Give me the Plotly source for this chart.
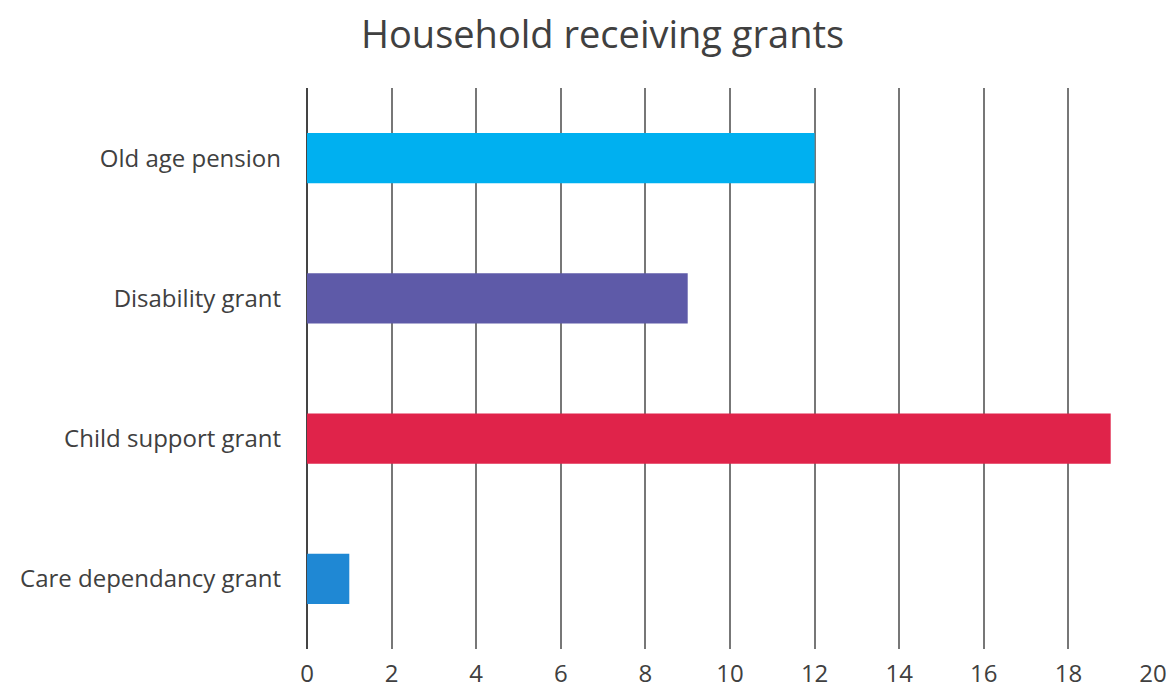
import plotly.graph_objects as go

categories = ["Old age pension", "Disability grant", "Child support grant", "Care dependancy grant"]
households = [12, 9, 19, 1]
bar_colors = ["#00B0F0", "#5E5AA8", "#E0234A", "#1F88D4"]
x_ticks = [0, 2, 4, 6, 8, 10, 12, 14, 16, 18, 20]

fig = go.Figure(
    go.Bar(
        y=categories,
        x=households,
        orientation="h",
        marker=dict(color=bar_colors, line=dict(width=0)),
        width=0.36,
        showlegend=False,
    )
)

fig.update_layout(
    width=1170,
    height=696,
    paper_bgcolor="white",
    plot_bgcolor="white",
    margin=dict(l=307, r=17, t=88, b=47, autoexpand=False),
    font=dict(family="Open Sans, Noto Sans, sans-serif", color="#404040"),
    title=dict(
        text="Household receiving grants",
        x=0.515,
        xanchor="center",
        y=0.95,
        yanchor="middle",
        font=dict(size=38, color="#404040"),
    ),
)

fig.update_xaxes(
    range=[0, 20],
    tickvals=x_ticks,
    showgrid=True,
    gridcolor="#777777",
    gridwidth=1.5,
    zeroline=True,
    zerolinecolor="#444444",
    zerolinewidth=1.5,
    showline=False,
    ticks="",
    automargin=False,
    ticklabelstandoff=8,
    tickfont=dict(size=24, color="#404040"),
)

fig.update_yaxes(
    categoryorder="array",
    categoryarray=categories[::-1],
    showgrid=False,
    zeroline=False,
    showline=False,
    ticks="",
    automargin=False,
    ticklabelstandoff=25,
    tickfont=dict(size=24, color="#404040"),
)

fig.write_html("out.html")
